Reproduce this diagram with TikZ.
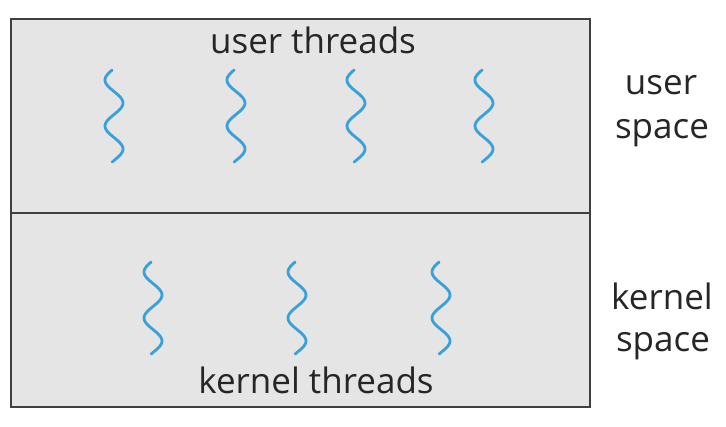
\documentclass[tikz,border=0pt]{standalone}
\usepackage{fontspec}
\setmainfont{Open Sans}
\begin{document}
\begin{tikzpicture}[x=1pt,y=-1pt,
  region/.style={fill=black!10,draw=black!75,line width=2.2pt},
  thread/.style={draw={rgb,255:red,58;green,160;blue,216},line width=2.8pt,line cap=round},
  lbl/.style={font=\fontsize{35}{40}\selectfont,text=black!85,inner sep=0pt}]
\useasboundingbox (0,0) rectangle (726,426);
% two stacked regions
\draw[region] (11,19) rectangle (590,213);
\draw[region] (11,213) rectangle (590,407);
% one thread: a vertical sine squiggle centred on x (period 46, amplitude 9)
\newcommand{\squiggle}[2]{%
  \draw[thread] plot[domain=0:92,samples=60,smooth]
    ({#1-9*sin(7.826*(\x+1.5))},{#2+\x});}
\foreach \cx in {114,236,356,484} {\squiggle{\cx}{70}}
\foreach \cx in {153,297,441} {\squiggle{\cx}{262}}
\node[lbl] (ut) at (313,40) {user threads};
\node[lbl] (kt) at (316,380) {kernel threads};
\node[lbl] (us1) at (661,85) {user};
\node[lbl] (us2) at (662,133) {space};
\node[lbl] (ks1) at (662,296) {kernel};
\node[lbl] (ks2) at (663,346) {space};
\end{tikzpicture}
\end{document}
